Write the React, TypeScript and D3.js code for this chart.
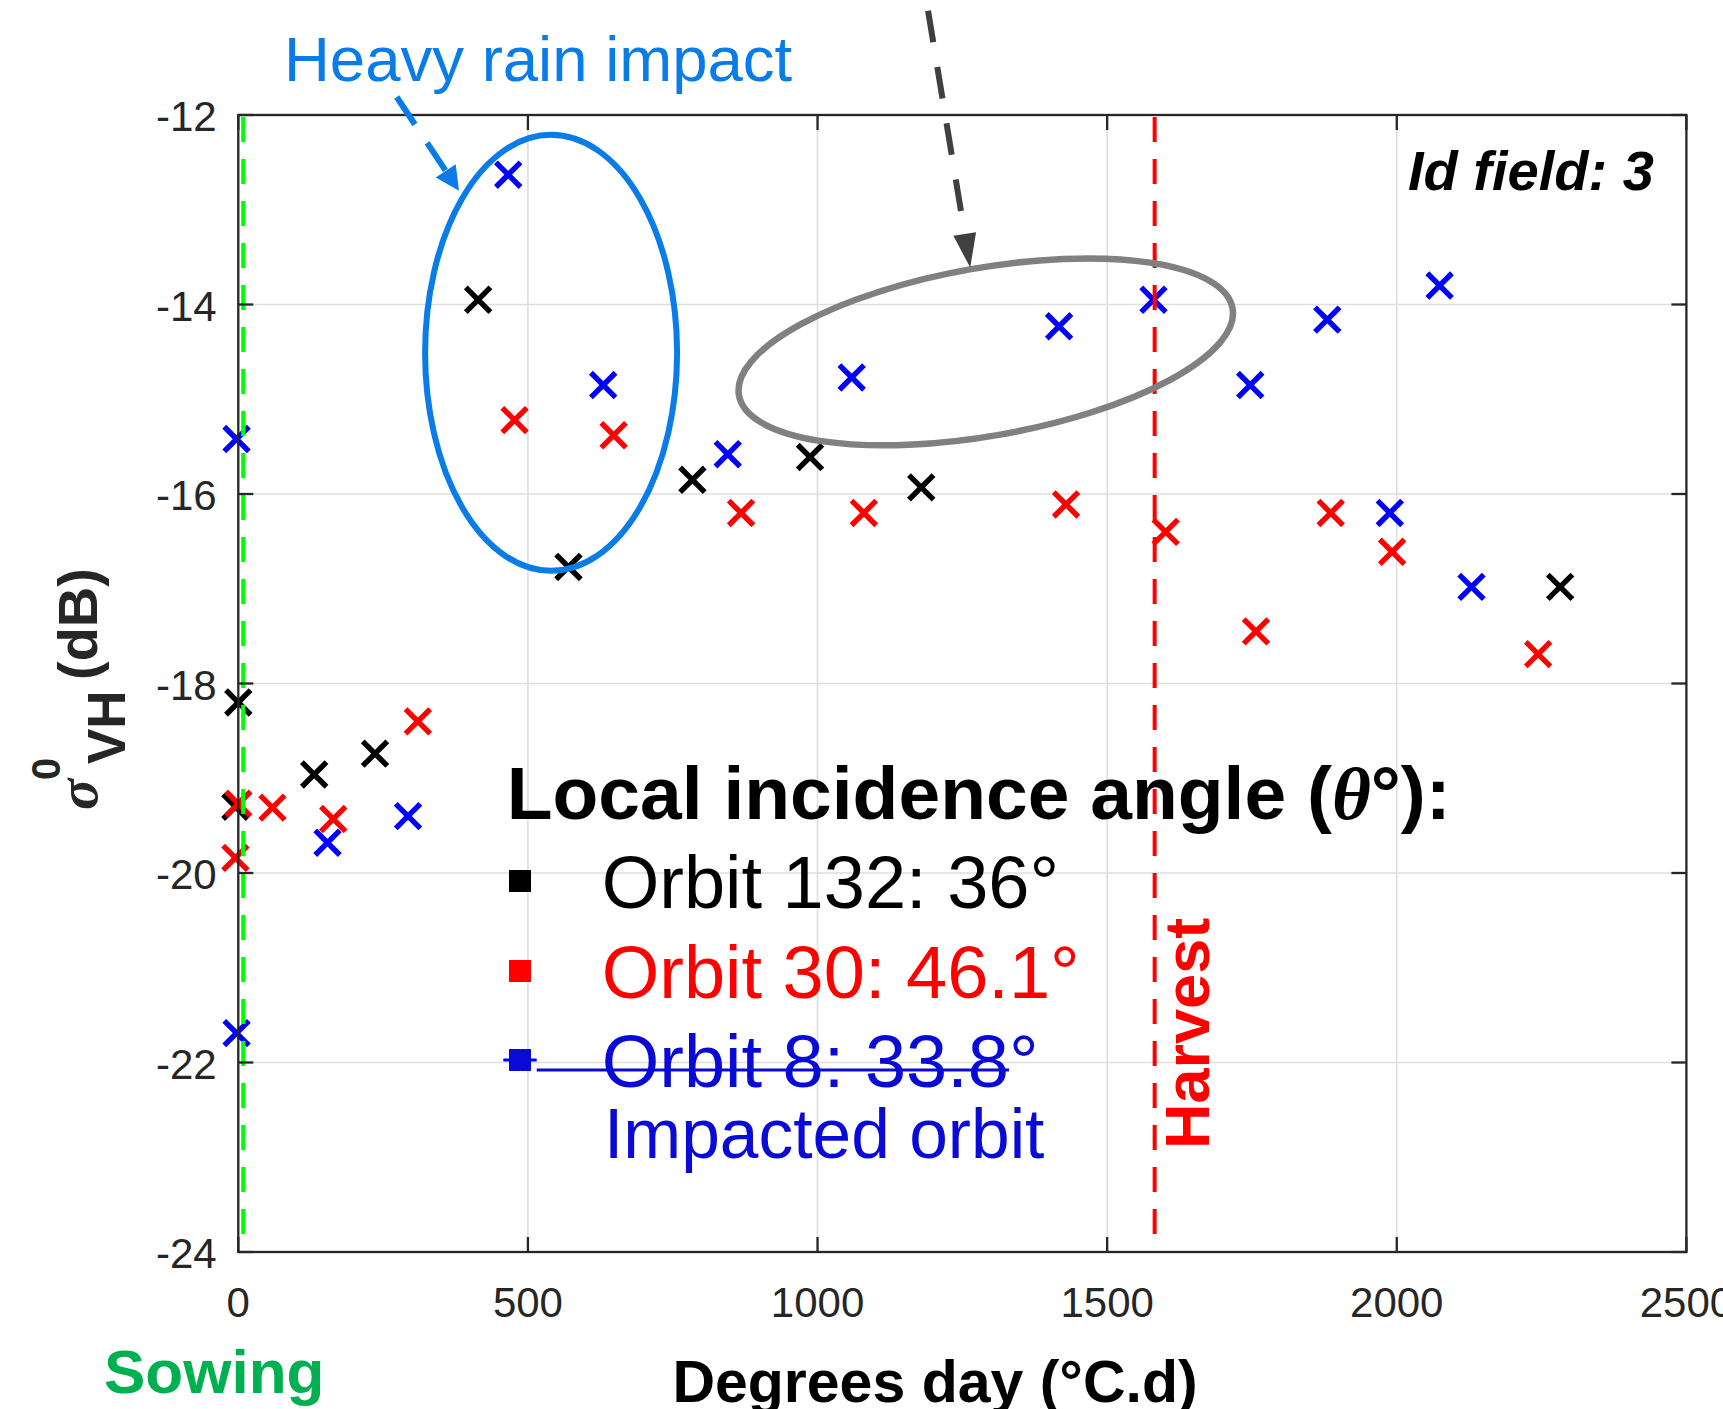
import React from 'react';
import * as d3 from 'd3';

// ---- data (degrees day, sigma0 VH in dB) ----
const orbit132X = [0, -5, 131, 236, 414, 570, 784, 987, 1179, 2282];
const orbit132Y = [-18.2, -19.3, -18.96, -18.74, -13.95, -16.77, -15.85, -15.61, -15.93, -16.98];

const orbit30X = [0, -5, 59, 164, 310, 477, 648, 868, 1080, 1429, 1601, 1757, 1886, 1992, 2244];
const orbit30Y = [-19.27, -19.84, -19.31, -19.43, -18.4, -15.22, -15.38, -16.2, -16.2, -16.11, -16.4, -17.45, -16.2, -16.61, -17.69];

const orbit8X = [-3, -3, 154, 293, 466, 630, 845, 1059, 1417, 1580, 1747, 1880, 1988, 2074, 2129];
const orbit8Y = [-15.42, -21.69, -19.68, -19.4, -12.63, -14.85, -15.58, -14.77, -14.23, -13.95, -14.85, -14.16, -16.2, -13.8, -16.98];

const xTicks = [0, 500, 1000, 1500, 2000, 2500];
const yTicks = [-24, -22, -20, -18, -16, -14, -12];
const xDomain = [0, 2500];
const yDomain = [-24, -12];

const sowingX = 8.6;
const harvestX = 1582;

const legendLabels = ['Orbit 132: 36°', 'Orbit 30: 46.1°', 'Orbit 8: 33.8°'];
const seriesColors = ['#000000', '#ff0000', '#0000ff'];
const legendTextColors = ['#000000', '#ff0000', '#0a0ad6'];

// annotation anchors in data coordinates
const rainEllipse = { cx: 540, cy: -14.51 };
const rainArrow = { x0: 273.5, y0: -11.81, x1: 381, y1: -12.8 };
const grayEllipse = { cx: 1290.4, cy: -14.5 };
const grayArrow = { x0: 1190.8, y0: -10.9, x1: 1263.6, y1: -13.61 };

const FONT = '"Liberation Sans", Arial, Helvetica, sans-serif';

function Cross({ cx, cy, color }: { cx: number; cy: number; color: string }) {
  const d = 12.3;
  return (
    <path
      d={`M${cx - d},${cy - d}L${cx + d},${cy + d}M${cx - d},${cy + d}L${cx + d},${cy - d}`}
      stroke={color}
      strokeWidth={5.4}
      fill="none"
    />
  );
}

function DashedArrow({ x0, y0, x1, y1, color, dash, width, headLen, headW }: any) {
  const dx = x1 - x0, dy = y1 - y0;
  const L = Math.hypot(dx, dy);
  const ux = dx / L, uy = dy / L;
  const bx = x1 - ux * headLen, by = y1 - uy * headLen;
  const px = -uy, py = ux;
  return (
    <g>
      <line x1={x0} y1={y0} x2={bx} y2={by} stroke={color} strokeWidth={width} strokeDasharray={dash} />
      <polygon
        points={`${x1},${y1} ${bx + px * headW / 2},${by + py * headW / 2} ${bx - px * headW / 2},${by - py * headW / 2}`}
        fill={color}
      />
    </g>
  );
}

export default function App() {
  React.useEffect(() => {
    document.body.style.margin = '0';
    document.body.style.overflow = 'hidden';
  }, []);

  const W = 1723, H = 1409;
  const left = 238.3, right = 1686.4, top = 115, bottom = 1252;
  const x = d3.scaleLinear().domain(xDomain).range([left, right]);
  const y = d3.scaleLinear().domain(yDomain).range([bottom, top]);

  const series = [
    { xs: orbit132X, ys: orbit132Y },
    { xs: orbit30X, ys: orbit30Y },
    { xs: orbit8X, ys: orbit8Y },
  ];

  const axisColor = '#262626';
  const gridColor = '#dedede';
  const tickLen = 15;
  const annBlue = '#0a7ce8';

  return (
    <div style={{ position: 'absolute', left: 0, top: 0 }}>
      <svg width={W} height={H} style={{ display: 'block', background: '#fff' }} fontFamily={FONT}>
        <rect x={0} y={0} width={W} height={H} fill="#fff" />
        {/* grid */}
        {xTicks.slice(1, -1).map((t) => (
          <line key={'gx' + t} x1={x(t)} x2={x(t)} y1={top} y2={bottom} stroke={gridColor} strokeWidth={1.6} />
        ))}
        {yTicks.slice(1, -1).map((t) => (
          <line key={'gy' + t} x1={left} x2={right} y1={y(t)} y2={y(t)} stroke={gridColor} strokeWidth={1.6} />
        ))}

        {/* markers */}
        {series.map((s, si) =>
          s.xs.map((xv, i) => <Cross key={si + '-' + i} cx={x(xv)} cy={y(s.ys[i])} color={seriesColors[si]} />)
        )}

        {/* sowing & harvest lines */}
        <line x1={x(sowingX)} x2={x(sowingX)} y1={top + 2} y2={bottom} stroke="#00ff00" strokeWidth={4.2} strokeDasharray="25 17" />
        <line x1={x(harvestX)} x2={x(harvestX)} y1={top + 2} y2={bottom} stroke="#ff0000" strokeWidth={4} strokeDasharray="25 17" />

        {/* axes box */}
        <rect x={left} y={top} width={right - left} height={bottom - top} fill="none" stroke={axisColor} strokeWidth={2.3} />
        {xTicks.map((t) => (
          <g key={'xt' + t}>
            <line x1={x(t)} x2={x(t)} y1={bottom} y2={bottom - tickLen} stroke={axisColor} strokeWidth={2.3} />
            <line x1={x(t)} x2={x(t)} y1={top} y2={top + tickLen} stroke={axisColor} strokeWidth={2.3} />
            <text x={x(t)} y={bottom + 65} textAnchor="middle" fontSize={42} fill={axisColor}>{t}</text>
          </g>
        ))}
        {yTicks.map((t) => (
          <g key={'yt' + t}>
            <line x1={left} x2={left + tickLen} y1={y(t)} y2={y(t)} stroke={axisColor} strokeWidth={2.3} />
            <line x1={right} x2={right - tickLen} y1={y(t)} y2={y(t)} stroke={axisColor} strokeWidth={2.3} />
            <text x={216.7} y={y(t) + 16} textAnchor="end" fontSize={42} fill={axisColor}>{t}</text>
          </g>
        ))}

        {/* axis labels */}
        <text x={935} y={1401.7} textAnchor="middle" fontSize={59} fontWeight="bold" fill="#000">Degrees day (°C.d)</text>
        <text x={104} y={1393.3} fontSize={62} fontWeight="bold" fill="#00b050">Sowing</text>
        <g transform="translate(97,686) rotate(-90)" fill={axisColor} fontWeight="bold">
          <text x={-124} y={0} fontSize={58} fontStyle="italic" fontFamily='"Liberation Serif", "Times New Roman", serif'>σ</text>
          <text x={-94} y={-37} fontSize={40}>0</text>
          <text x={-78} y={28} fontSize={53}>VH</text>
          <text x={6} y={0} fontSize={56}>(dB)</text>
        </g>

        {/* Id field */}
        <text x={1408} y={190} fontSize={56} fontWeight="bold" fontStyle="italic" fill="#000">Id field: 3</text>

        {/* Harvest label */}
        <text transform="translate(1209,1149) rotate(-90)" x={0} y={0} fontSize={63} fontWeight="bold" fill="#ff0000">Harvest</text>

        {/* legend */}
        <text x={506.7} y={819} fontSize={75} fontWeight="bold" fill="#000">
          Local incidence angle (
          <tspan fontFamily='"Liberation Serif", "Times New Roman", serif' fontStyle="italic">θ</tspan>
          °):
        </text>
        {legendLabels.map((lab, i) => {
          const baseY = [908, 998, 1087][i];
          const cy = [881, 971, 1060][i];
          return (
            <g key={'lg' + i}>
              {i === 2 && <line x1={503.3} x2={536.7} y1={cy} y2={cy} stroke={seriesColors[2]} strokeWidth={3} />}
              <rect x={520 - 11} y={cy - 11} width={22} height={22} fill={i === 2 ? '#0a0ad6' : seriesColors[i]} />
              <text x={601.7} y={baseY} fontSize={74} fill={legendTextColors[i]}>{lab}</text>
            </g>
          );
        })}
        <line x1={536.7} x2={1009} y1={1070} y2={1070} stroke="#0a0ad6" strokeWidth={3} />
        <text x={604} y={1158} fontSize={69.5} fill="#0a0ad6">Impacted orbit</text>

        {/* annotations */}
        <text x={284} y={81} fontSize={63.5} fill={annBlue}>Heavy rain impact</text>
        <ellipse cx={x(rainEllipse.cx)} cy={y(rainEllipse.cy)} rx={126} ry={218} fill="none" stroke={annBlue} strokeWidth={6} />
        <DashedArrow x0={x(rainArrow.x0)} y0={y(rainArrow.y0)} x1={x(rainArrow.x1)} y1={y(rainArrow.y1)} color={annBlue} dash="33 22" width={6} headLen={24} headW={24} />
        <ellipse
          cx={0}
          cy={0}
          rx={250.6}
          ry={84}
          transform={`translate(${x(grayEllipse.cx)},${y(grayEllipse.cy)}) rotate(-10)`}
          fill="none"
          stroke="#808080"
          strokeWidth={6.5}
        />
        <DashedArrow x0={x(grayArrow.x0)} y0={y(grayArrow.y0)} x1={x(grayArrow.x1)} y1={y(grayArrow.y1)} color="#404040" dash="32 25" width={6} headLen={34} headW={23} />
      </svg>
    </div>
  );
}
